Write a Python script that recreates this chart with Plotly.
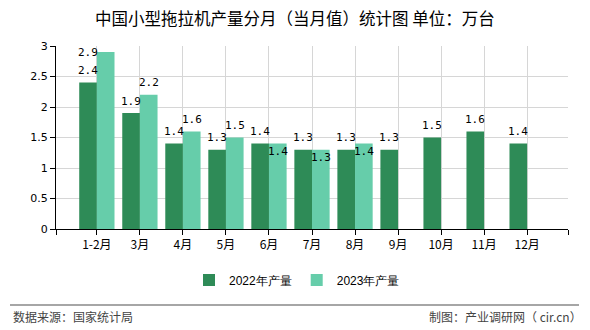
import plotly.graph_objects as go

categories = ["1-2月", "3月", "4月", "5月", "6月", "7月", "8月", "9月", "10月", "11月", "12月"]
prod_2022 = [2.4, 1.9, 1.4, 1.3, 1.4, 1.3, 1.3, 1.3, 1.5, 1.6, 1.4]
prod_2023 = [2.9, 2.2, 1.6, 1.5, 1.4, 1.3, 1.4]
series_names = ["2022年产量", "2023年产量"]
y_ticks = [0, 0.5, 1, 1.5, 2, 2.5, 3]
y_tick_text = ["0", "0.5", "1", "1.5", "2", "2.5", "3"]

C_DARK = "#2E8B57"
C_LIGHT = "#66CDAA"
BARGAP = 0.18
off = (1 - BARGAP) / 4

xs = list(range(len(categories)))
fig = go.Figure()
fig.add_trace(go.Bar(x=xs, y=prod_2022, name=series_names[0], marker_color=C_DARK,
                     marker_line_width=0, hoverinfo="skip"))
fig.add_trace(go.Bar(x=xs[:len(prod_2023)], y=prod_2023, name=series_names[1], marker_color=C_LIGHT,
                     marker_line_width=0, hoverinfo="skip"))

lab_font = dict(family="DejaVu Sans Mono", size=11, color="#000")
ann = []
for i, v in enumerate(prod_2022):
    ann.append(dict(x=i - off, y=v, text=f"{v:.1f}", showarrow=False, yshift=12,
                    font=lab_font, xref="x", yref="y"))
for i, v in enumerate(prod_2023):
    if v >= 2.8:
        x, ys = i - off, 0
    elif v - prod_2022[i] < 0.15:
        x, ys = i + off, -8
    else:
        x, ys = i + off, 12
    ann.append(dict(x=x, y=v, text=f"{v:.1f}", showarrow=False, yshift=ys,
                    font=lab_font, xref="x", yref="y"))

foot_font = dict(family="Noto Sans CJK SC", size=12, color="#444")
paper_ann = [
    dict(text="中国小型拖拉机产量分月（当月值）统计图 单位：万台", xref="paper", yref="paper",
         x=(295 - 56) / 512, y=1 + 28 / 183, xanchor="center", yanchor="middle", showarrow=False,
         font=dict(family="Noto Sans CJK SC", size=16.5, color="#000")),
    dict(text="数据来源：国家统计局", xref="paper", yref="paper",
         x=-(56 - 11) / 512, y=-(316 - 229) / 183, xanchor="left", yanchor="middle",
         showarrow=False, font=foot_font),
    dict(text="制图：产业调研网（ cir.cn）", xref="paper", yref="paper",
         x=1 + (584 - 568) / 512, y=-(316 - 229) / 183, xanchor="right", yanchor="middle",
         showarrow=False, font=foot_font),
]

fig.update_layout(
    width=590, height=330,
    margin=dict(l=56, r=22, t=46, b=101),
    paper_bgcolor="white", plot_bgcolor="white",
    barmode="group", bargap=BARGAP, bargroupgap=0,
    font=dict(family="Noto Sans CJK SC", size=12, color="#000"),
    showlegend=True,
    legend=dict(orientation="h", x=(297 - 56) / 512, xanchor="center", y=-(280 - 229) / 183, yanchor="middle",
                font=dict(family="Liberation Sans", size=12, color="#000"),
                itemwidth=30, tracegroupgap=0),
    annotations=ann + paper_ann,
    shapes=[dict(type="line", xref="paper", yref="paper",
                 x0=-(56 - 10) / 512, x1=1 + (579 - 568) / 512,
                 y0=-(305 - 229) / 183, y1=-(305 - 229) / 183,
                 line=dict(color="#888", width=1.5))],
)
fig.update_xaxes(
    range=[-0.95, 10.95], tickvals=[-0.95] + xs + [10.95], ticktext=[""] + categories + [""],
    showgrid=True, gridcolor="#d6d6d6", gridwidth=1,
    showline=True, linecolor="#000", linewidth=1,
    ticks="outside", ticklen=5, tickcolor="#000",
    tickfont=dict(family="Noto Sans CJK SC", size=12, color="#000"), fixedrange=True,
)
fig.update_yaxes(
    range=[0, 3], tickvals=y_ticks, ticktext=y_tick_text,
    showgrid=True, gridcolor="#d6d6d6", gridwidth=1,
    showline=True, linecolor="#000", linewidth=1,
    ticks="outside", ticklen=5, tickcolor="#000",
    tickfont=dict(family="DejaVu Sans", size=11, color="#000"), zeroline=False, fixedrange=True,
)
fig.write_html("out.html")
